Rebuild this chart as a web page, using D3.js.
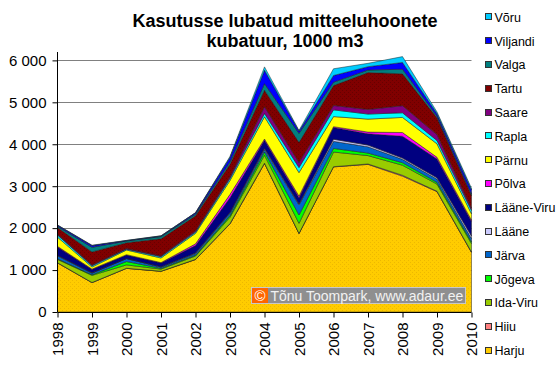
<!DOCTYPE html>
<html><head><meta charset="utf-8">
<script src="https://cdn.jsdelivr.net/npm/d3@7"></script>
<style>body{margin:0;background:#fff}svg{display:block;font-family:Arial,"Liberation Sans",sans-serif}</style>
</head><body><svg id="c" width="560" height="367"></svg>
<script>
const years = [1998,1999,2000,2001,2002,2003,2004,2005,2006,2007,2008,2009,2010];
const regions = ["Harju","Hiiu","Ida-Viru","Jõgeva","Järva","Lääne","Lääne-Viru","Põlva","Pärnu","Rapla","Saare","Tartu","Valga","Viljandi","Võru"];
const colors = ["#FFCC00","#FF8080","#99CC00","#00FF00","#0066CC","#CCCCFF","#000080","#FF00FF","#FFFF00","#00FFFF","#800080","#800000","#008080","#0000FF","#00CCFF"];
const Harju      = [1170, 700,1040, 970,1250,2100,3540,1870,3460,3520,3240,2870,1420];
const Hiiu       = [   5,   3,   3,   3,   5,  10,  10,   5,   5,  10,  20,  10,  10];
const IdaViru    = [  80, 170,  80,  50,  80, 150, 190, 240, 350, 200, 240, 170, 200];
const Jogeva     = [  15,  15,  80,  20,  20,  40,  75, 200,  85,  60,  60,  40,  40];
const Jarva      = [  70,  40,  70,  30,  40,  60,  60, 240, 170, 150,  80,  80,  80];
const Laane      = [  10,   5,   5,   5,  10,  15,  25,  20,  50,  40,  30,  30,  60];
const LaaneViru  = [ 200,  80,  80,  90, 180, 350, 195, 150, 280, 270, 520, 450, 350];
const Polva      = [  15,  10,  10,  10,  40,  80,  30,  40,  20,  40,  90,  40,  30];
const Parnu      = [ 220,  50, 110, 110, 250, 330, 530, 560, 240, 310, 360, 320, 150];
const Rapla      = [  50,  30,  20,  30,  30,  50,  80, 120, 160, 120, 110,  80,  80];
const Saare      = [  20,  20,  15,  20,  30,  40, 160, 120, 105, 110, 170, 140,  50];
const Tartu      = [ 160, 310, 140, 410, 360, 300, 395, 480, 475, 880, 760, 400, 300];
const Valga      = [  30, 110,  40,  50,  40,  60, 155, 215,  80,  60, 110,  40,  40];
const Viljandi   = [  25,  40,  10,  15,  30, 100, 320,  50, 160,  80, 160,  60, 100];
const Voru       = [   5,  10,   5,   5,   5,  25,  80,  20, 160,  80, 140,  40,  40];
const series = [Harju,Hiiu,IdaViru,Jogeva,Jarva,Laane,LaaneViru,Polva,Parnu,Rapla,Saare,Tartu,Valga,Viljandi,Voru];
const yTicks = [0,1000,2000,3000,4000,5000,6000];
const titleLines = ["Kasutusse lubatud mitteeluhoonete","kubatuur, 1000 m3"];
const credit = "Tõnu Toompark, www.adaur.ee";

const svg = d3.select("#c");
const table = years.map((yr,i)=>{const o={year:yr}; regions.forEach((r,k)=>o[r]=series[k][i]); return o;});
const x = d3.scaleLinear().domain([1998,2010]).range([57.5,471.5]);
const y = d3.scaleLinear().domain([0,6200]).range([312,52]);

// patterns
const defs = svg.append("defs");
function dots(id,bg,fg){
  const p = defs.append("pattern").attr("id",id).attr("patternUnits","userSpaceOnUse").attr("width",4).attr("height",4);
  p.append("rect").attr("width",4).attr("height",4).attr("fill",bg);
  p.append("rect").attr("x",0).attr("y",0).attr("width",1).attr("height",1).attr("fill",fg);
  p.append("rect").attr("x",2).attr("y",2).attr("width",1).attr("height",1).attr("fill",fg);
}
dots("pH","#FFCC00","#EDB800");
dots("pT","#800000","#660000");
const fillOf = (k)=> k===0?"url(#pH)":(k===11?"url(#pT)":colors[k]);

// gridlines
svg.append("g").selectAll("line").data(yTicks.filter(d=>d>0)).join("line")
  .attr("x1",57.5).attr("x2",471.5).attr("y1",d=>Math.round(y(d))+0.5).attr("y2",d=>Math.round(y(d))+0.5)
  .attr("stroke","#808080").attr("stroke-width",1);

// stacked areas
const stack = d3.stack().keys(regions);
const layers = stack(table);
const area = d3.area().x(d=>x(d.data.year)).y0(d=>y(d[0])).y1(d=>y(d[1]));
svg.append("g").selectAll("path").data(layers).join("path")
  .attr("d",area).attr("fill",(d,i)=>fillOf(i))
  .attr("stroke","#1a1a1a").attr("stroke-width",0.6).attr("stroke-opacity",0.8);

// axes
const yAxis = d3.axisLeft(y).tickValues(yTicks).tickSize(5)
  .tickFormat(d=>d3.format(",")(d).replace(",", " "));
const gy = svg.append("g").attr("transform","translate(57.5,0)").call(yAxis);
gy.select(".domain").attr("d","M0,52V312").attr("stroke","#000");
gy.selectAll(".tick line").attr("stroke","#000");
gy.selectAll(".tick text").attr("font-size",15).attr("font-family","Arial,'Liberation Sans',sans-serif").attr("fill","#000").attr("x",-11);

const xAxis = d3.axisBottom(x).tickValues(years).tickSize(5).tickFormat(d3.format("d"));
const gx = svg.append("g").attr("transform","translate(0,312.5)").call(xAxis);
gx.select(".domain").attr("d","M57.5,0H471.5").attr("stroke","#000");
gx.selectAll(".tick line").attr("stroke","#000");
gx.selectAll(".tick text").attr("font-size",15).attr("font-family","Arial,'Liberation Sans',sans-serif").attr("fill","#000")
  .attr("transform","rotate(-90)").attr("text-anchor","end").attr("x",-10).attr("y",0).attr("dy","0.35em");

// credit box
const cb = svg.append("g");
cb.append("rect").attr("x",251.5).attr("y",287.5).attr("width",214).attr("height",16).attr("fill","#8f8f8f").attr("stroke","#c8c8c8");
cb.append("rect").attr("x",252).attr("y",288).attr("width",16).attr("height",15).attr("fill","#FF6600");
cb.append("text").attr("x",260).attr("y",300.5).attr("text-anchor","middle").attr("font-size",15).attr("fill","#fff").text("©");
cb.append("text").attr("x",270.5).attr("y",300.5).attr("font-size",14).attr("fill","#f2f2f2").text(credit);

// title
svg.append("g").selectAll("text").data(titleLines).join("text")
  .attr("x",285).attr("y",(d,i)=>27+i*20).attr("text-anchor","middle")
  .attr("font-size",18).attr("font-weight","bold").attr("fill","#000").text(d=>d);

// legend (reverse order)
const lg = svg.append("g");
const items = regions.map((r,k)=>({r,k})).reverse();
items.forEach((it,i)=>{
  const cy = 17.3 + i*23.8;
  lg.append("rect").attr("x",485.5).attr("y",Math.round(cy)-3.5).attr("width",6).attr("height",6)
    .attr("fill",colors[it.k]).attr("stroke","#333").attr("stroke-width",1);
  lg.append("text").attr("x",494.5).attr("y",cy).attr("dy","0.36em").attr("font-size",12.5).attr("fill","#000").text(it.r);
});
</script></body></html>
